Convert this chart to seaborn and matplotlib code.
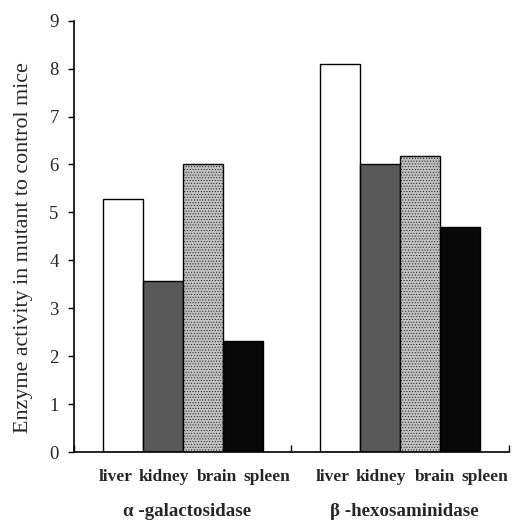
import matplotlib
matplotlib.use("Agg")
import matplotlib.pyplot as plt
import matplotlib.transforms as mtransforms
import seaborn as sns
import pandas as pd

enzymes = ["α -galactosidase", "β -hexosaminidase"]
tissues = ["liver", "kidney", "brain", "spleen"]
galactosidase = [5.28, 3.57, 6.0, 2.32]
hexosaminidase = [8.1, 6.0, 6.18, 4.7]
yticks = [0, 1, 2, 3, 4, 5, 6, 7, 8, 9]
ylabel = "Enzyme activity in mutant to control mice"

colors = ["#ffffff", "#585858", "#c2c2c2", "#080808"]

rows = []
for enz, vals in zip(enzymes, [galactosidase, hexosaminidase]):
    for t, v in zip(tissues, vals):
        rows.append({"enzyme": enz, "tissue": t, "value": v})
df = pd.DataFrame(rows)

sns.set_style("ticks")
plt.rcParams["font.family"] = ["Liberation Serif", "DejaVu Serif"]
plt.rcParams["hatch.color"] = "#a8a8a8"
plt.rcParams["hatch.linewidth"] = 0.35

fig = plt.figure(figsize=(5.15, 5.30), dpi=100)
ax = fig.add_axes([0.1437, 0.147, 0.988 - 0.1437, 0.961 - 0.147])

sns.barplot(data=df, x="enzyme", y="value", hue="tissue", order=enzymes,
            hue_order=tissues, palette=colors, width=0.735, saturation=1,
            edgecolor="black", linewidth=1.0, legend=False, ax=ax)

# fine stipple texture on brain bars
for bar in ax.containers[2]:
    bar.set_hatch("......")
    if hasattr(bar, "set_hatchcolor"):
        bar.set_hatchcolor("#a8a8a8")

ax.set_xlim(-0.5, 1.5)
ax.set_ylim(0, 9)
ax.set_yticks(yticks)
ax.set_yticklabels([str(v) for v in yticks], fontsize=13.5)
ax.tick_params(axis="y", direction="out", length=4, width=1, color="black", pad=7)

# tissue labels: spread evenly beneath each group
label_offsets = [-0.310, -0.089, 0.158, 0.388]
pos, labels = [], []
for i in range(len(enzymes)):
    for off, t in zip(label_offsets, tissues):
        pos.append(i + off)
        labels.append(t)
ax.set_xticks(pos)
ax.set_xticklabels(labels, fontsize=12.5, fontweight="bold")
ax.tick_params(axis="x", which="major", length=0, pad=12)
ax.set_xticks([-0.5, 0.5, 1.5], minor=True)
ax.tick_params(axis="x", which="minor", direction="in", length=5, width=1, color="black")

trans = mtransforms.blended_transform_factory(ax.transData, ax.transAxes)
for i, enz in enumerate(enzymes):
    ax.text(i + 0.02, -0.137, enz, transform=trans, ha="center", va="center",
            fontsize=13.6, fontweight="bold")

ax.set_xlabel("")
ax.set_ylabel(ylabel, fontsize=15.8)
ax.yaxis.set_label_coords(-0.094, 0.475)

for s in ["top", "right"]:
    ax.spines[s].set_visible(False)
for s in ["left", "bottom"]:
    ax.spines[s].set_color("black")
    ax.spines[s].set_linewidth(1.2)

fig.savefig("out.png", dpi=100)
